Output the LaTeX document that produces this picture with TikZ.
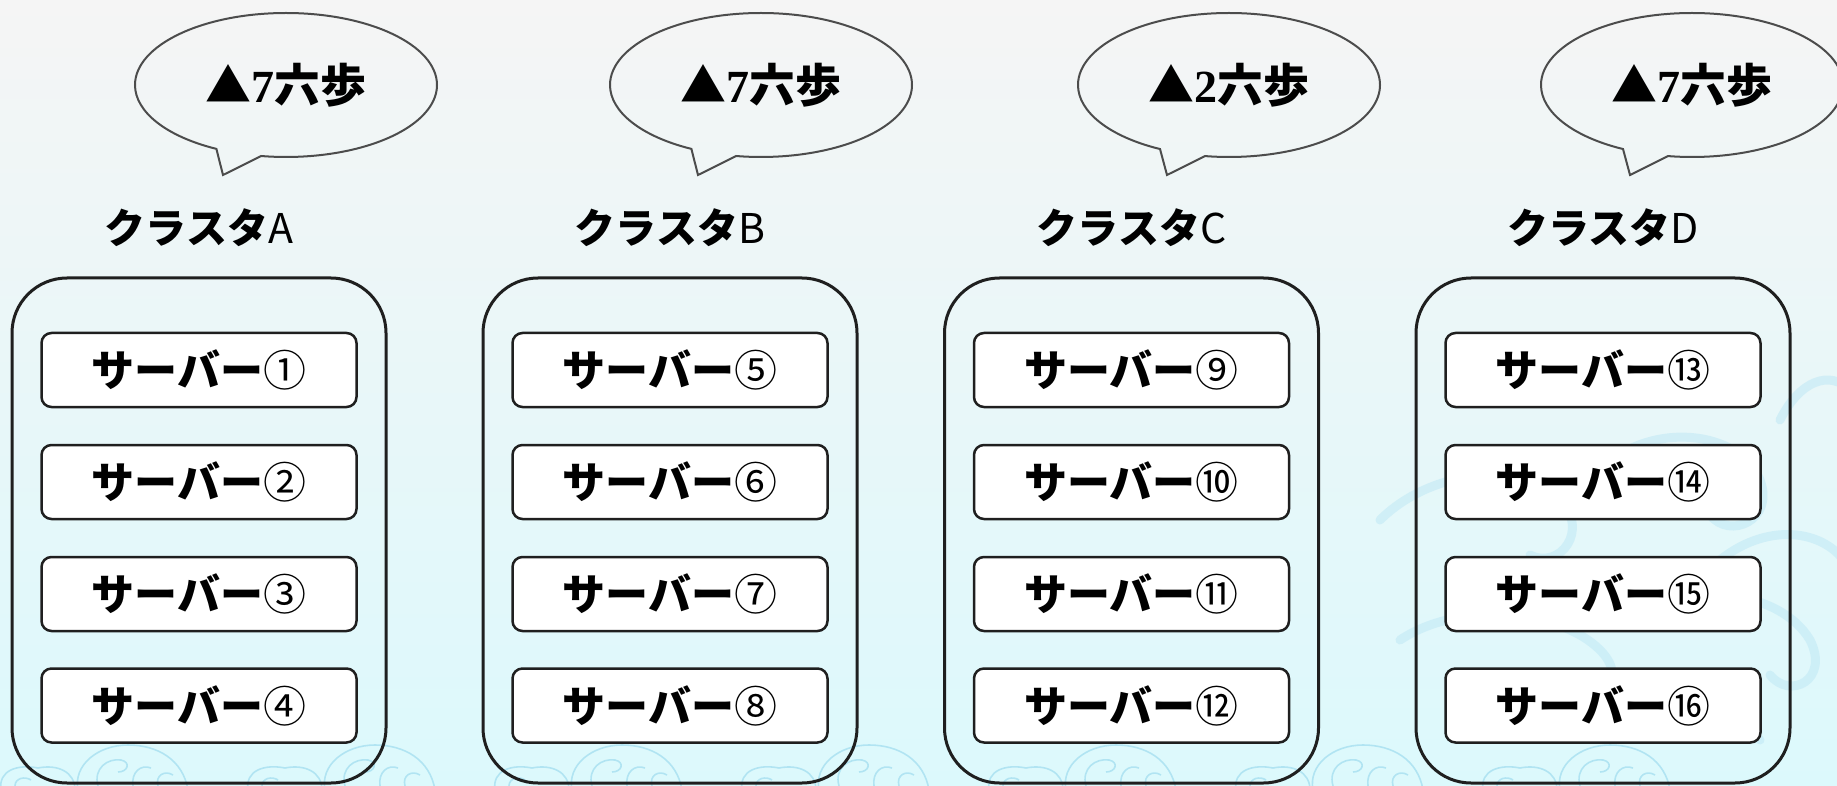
\documentclass[tikz,border=0pt]{standalone}
\usepackage{fontspec}
\newfontfamily\jp{Noto Sans CJK JP}
\newfontfamily\serifnum{Liberation Serif}
\usetikzlibrary{shapes.callouts}
\definecolor{bgtop}{HTML}{F5F5F5}
\definecolor{bgmid}{HTML}{EDF5F6}
\definecolor{bgbot}{HTML}{DCF9FC}
\definecolor{wavec}{HTML}{9FDCEF}
\definecolor{swirlc}{HTML}{BFE8F5}
\begin{document}
\begin{tikzpicture}[x=1pt,y=-1pt,
  cluster/.style={draw=black!88, line width=3pt, rounded corners=55pt, minimum width=374pt, minimum height=505pt, inner sep=0pt},
  server/.style={draw=black!88, line width=2.5pt, fill=white, rounded corners=10pt, minimum width=315pt, minimum height=74pt, inner sep=0pt, font=\jp\bfseries\fontsize{43}{43}\selectfont},
  bubble/.style={ellipse callout, draw=black!70, line width=2pt, minimum width=302pt, minimum height=144pt, callout pointer arc=18, inner sep=0pt, font=\jp\bfseries\fontsize{46}{46}\selectfont},
  clabel/.style={font=\jp\fontsize{41}{41}\selectfont, inner sep=0pt},
  waveline/.style={draw=wavec, line width=1.6pt, opacity=0.7},
  swirl/.style={draw=swirlc, line width=9pt, line cap=round, opacity=0.55}]
\useasboundingbox (0,0) rectangle (1837,786);
\clip (0,0) rectangle (1837,786);
\shade[top color=bgtop, middle color=bgmid, bottom color=bgbot] (0,0) rectangle (1837,786);
% background swirls (lower right)
\draw[swirl] (1380,520) .. controls (1430,470) and (1520,460) .. (1560,500) .. controls (1590,530) and (1560,570) .. (1530,555);
\draw[swirl] (1600,470) .. controls (1650,420) and (1740,430) .. (1760,480) .. controls (1775,520) and (1730,540) .. (1710,515);
\draw[swirl] (1720,560) .. controls (1770,520) and (1830,530) .. (1850,570);
\draw[swirl] (1400,640) .. controls (1460,600) and (1560,610) .. (1600,650) .. controls (1630,680) and (1600,710) .. (1570,690);
\draw[swirl] (1640,620) .. controls (1690,580) and (1780,590) .. (1810,640) .. controls (1830,680) and (1790,700) .. (1770,675);
\draw[swirl] (1780,420) .. controls (1800,380) and (1830,370) .. (1850,390);
\draw[swirl] (1600,720) .. controls (1650,700) and (1720,705) .. (1760,740);
% bottom wave crests
\foreach \x in {133,380,627,874,1121,1368,1615}{
  \draw[waveline] (\x-55,790) .. controls (\x-60,765) and (\x-35,745) .. (\x-5,745) .. controls (\x+25,745) and (\x+50,760) .. (\x+55,790);
  \draw[waveline] (\x-35,786) .. controls (\x-40,768) and (\x-25,758) .. (\x-12,760) .. controls (\x-2,762) and (\x-5,772) .. (\x-15,772);
  \draw[waveline] (\x,786) .. controls (\x-2,772) and (\x+8,764) .. (\x+18,768);
  \draw[waveline] (\x+25,786) .. controls (\x+22,775) and (\x+32,770) .. (\x+40,775);
  \draw[waveline] (\x-132,790) .. controls (\x-135,770) and (\x-115,764) .. (\x-95,768) .. controls (\x-75,764) and (\x-58,772) .. (\x-58,790);
  \draw[waveline] (\x-118,786) .. controls (\x-118,778) and (\x-108,776) .. (\x-102,780);
}
\foreach \L/\cx/\bx/\tx/\mv/\ci/\cii/\ciii/\civ in {A/199/286/223/7/①/②/③/④, B/670/761/698/7/⑤/⑥/⑦/⑧, C/1131.5/1229/1167/2/⑨/⑩/⑪/⑫, D/1603/1692/1630/7/⑬/⑭/⑮/⑯}{
  \node[cluster] (c\L) at (\cx,530.5) {};
  \node[clabel] (l\L) at (\cx,228) {{\bfseries クラスタ}\L};
  \node[bubble, callout absolute pointer={(\tx,175)}] (b\L) at (\bx,85) {▲{\serifnum \mv}六歩};
  \node[server] (s\L1) at (\cx,370) {サーバー{\mdseries\ci}};
  \node[server] (s\L2) at (\cx,482) {サーバー{\mdseries\cii}};
  \node[server] (s\L3) at (\cx,594) {サーバー{\mdseries\ciii}};
  \node[server] (s\L4) at (\cx,705.5) {サーバー{\mdseries\civ}};
}
\end{tikzpicture}
\end{document}
